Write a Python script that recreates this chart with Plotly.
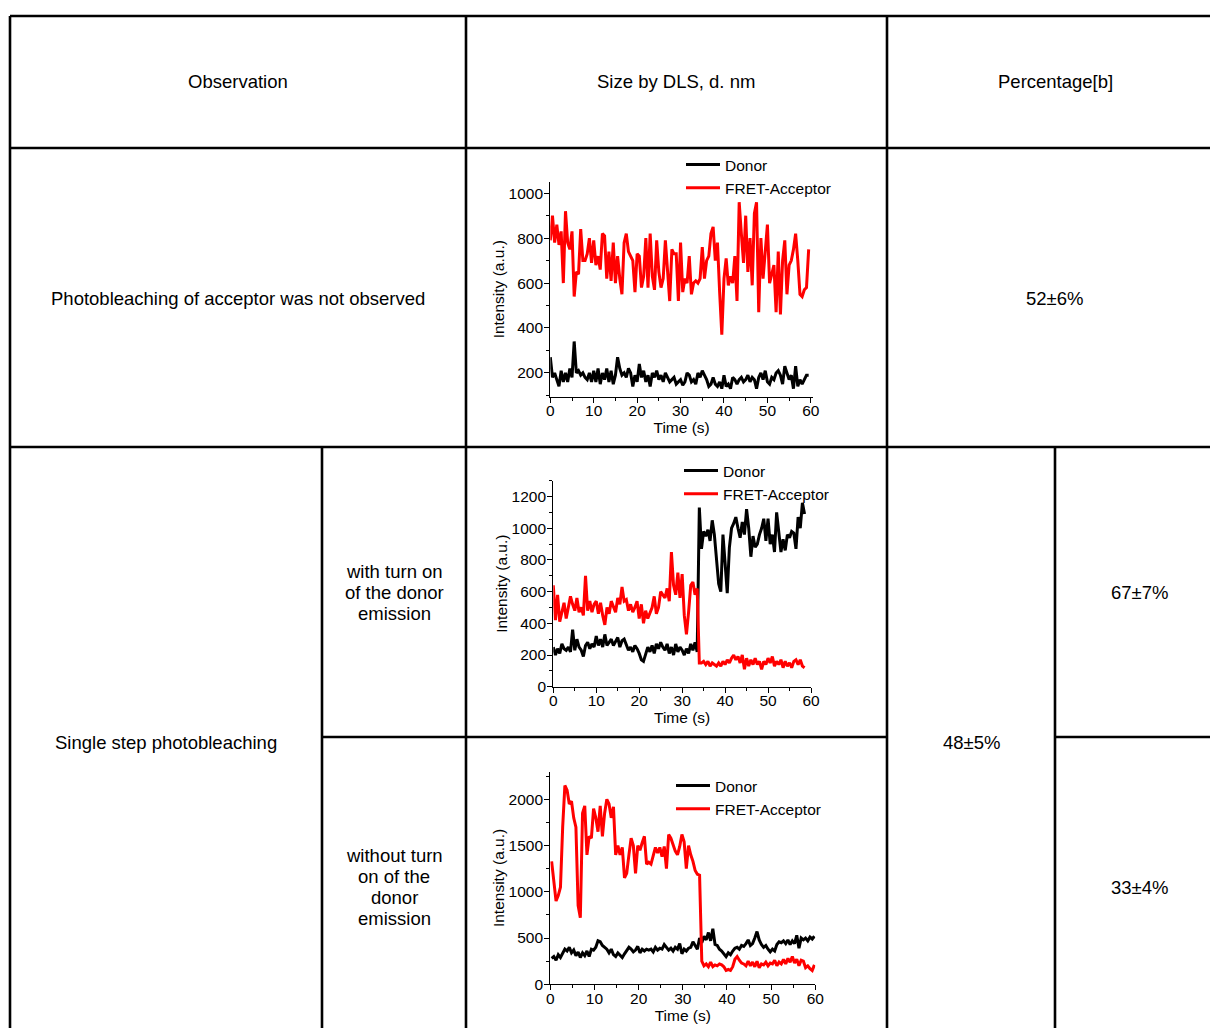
import plotly.graph_objects as go

W, H = 1210, 1028
OFF = 0  # body margin is removed in the page, so page pixels equal figure pixels

# chart 1: photobleaching of acceptor not observed (0.5 s steps from t=0)
donor1 = [270, 180, 200, 170, 140, 210, 160, 200, 160, 220, 180, 340, 200, 210, 190, 200,
          180, 170, 200, 160, 210, 160, 220, 150, 200, 170, 220, 160, 210, 150, 190, 270,
          220, 190, 200, 180, 220, 200, 140, 190, 160, 240, 180, 210, 160, 190, 140, 200,
          180, 210, 170, 190, 160, 200, 180, 160, 170, 180, 150, 160, 170, 145, 160, 200,
          190, 160, 170, 150, 200, 180, 210, 190, 170, 140, 150, 180, 150, 140, 160, 130,
          190, 140, 150, 130, 180, 170, 150, 170, 180, 160, 170, 190, 160, 180, 170, 130,
          180, 200, 170, 210, 160, 150, 180, 170, 200, 210, 190, 150, 230, 200, 170, 190,
          130, 230, 140, 170, 150, 170, 190, 190]
acceptor1 = [790, 900, 780, 860, 770, 830, 600, 920, 780, 750, 830, 540, 650, 640, 840, 700,
             700, 730, 800, 690, 790, 680, 720, 660, 820, 810, 620, 740, 610, 780, 600, 720,
             620, 550, 780, 820, 740, 720, 700, 560, 730, 720, 580, 630, 800, 580, 820, 630,
             570, 790, 650, 580, 620, 790, 640, 520, 750, 730, 730, 520, 780, 560, 620, 600,
             720, 550, 600, 610, 600, 620, 760, 620, 700, 720, 820, 850, 700, 780, 560, 370,
             620, 710, 590, 630, 600, 720, 520, 960, 820, 690, 900, 650, 800, 590, 910, 960,
             470, 800, 620, 750, 860, 600, 640, 680, 470, 740, 460, 700, 790, 550, 680, 700,
             750, 820, 700, 550, 540, 570, 580, 750]

# chart 2: single step, with turn on of the donor emission (0.5 s steps from t=0)
donor2 = [250, 200, 240, 210, 270, 240, 230, 250, 220, 360, 230, 300, 250, 230, 190, 260,
          280, 240, 270, 250, 320, 260, 300, 250, 330, 260, 280, 300, 260, 290, 310, 250,
          290, 300, 260, 230, 250, 220, 260, 240, 210, 170, 160, 200, 250, 220, 260, 210,
          270, 240, 280, 250, 230, 270, 210, 250, 200, 270, 220, 250, 230, 200, 240, 210,
          270, 230, 280, 220, 1130, 870, 980, 950, 990, 920, 1050, 960, 780, 650, 600, 960,
          780, 590, 880, 1000, 1030, 1070, 1000, 940, 1040, 960, 1120, 1000, 820, 950, 880, 900,
          960, 1000, 1060, 920, 1060, 900, 960, 850, 1100, 950, 850, 930, 860, 960, 940, 980,
          970, 870, 1070, 1000, 1160, 1090]
acceptor2 = [640, 420, 580, 410, 470, 530, 430, 500, 570, 520, 480, 560, 470, 500, 450, 700,
             480, 540, 470, 520, 540, 460, 530, 450, 390, 500, 460, 540, 500, 470, 560, 520,
             630, 540, 550, 480, 520, 470, 500, 540, 430, 520, 400, 480, 430, 470, 500, 570,
             460, 500, 600, 580, 560, 620, 540, 850, 640, 580, 720, 560, 710, 450, 330, 470,
             640, 660, 580, 620, 150, 150, 160, 140, 160, 130, 150, 140, 130, 150, 130, 160,
             140, 170, 150, 180, 200, 170, 190, 150, 200, 110, 180, 130, 170, 140, 180, 140,
             160, 110, 160, 140, 180, 150, 190, 130, 160, 140, 170, 120, 160, 130, 150, 120,
             160, 170, 140, 170, 130, 120]

# chart 3: single step, without turn on of the donor emission (0.5 s steps from t=0.3)
donor3 = [280, 300, 260, 320, 290, 330, 380, 360, 400, 340, 370, 310, 350, 290, 340, 310,
          360, 300, 380, 370, 400, 470, 460, 420, 400, 380, 340, 380, 320, 300, 340, 310,
          290, 330, 360, 400, 380, 350, 370, 410, 340, 380, 360, 380, 370, 380, 350, 400,
          370, 390, 380, 430, 400, 370, 390, 360, 400, 380, 440, 330, 380, 360, 390, 400,
          460, 420, 380, 500, 450, 520, 480, 560, 470, 600, 430, 420, 380, 360, 330, 300,
          340, 320, 360, 390, 400, 380, 420, 410, 440, 480, 420, 440, 500, 570, 480, 430,
          400, 420, 380, 350, 380, 360, 430, 460, 450, 470, 440, 480, 430, 470, 440, 530,
          390, 500, 480, 500, 470, 510, 490, 520]
acceptor3 = [1330, 1100, 900, 960, 1050, 1700, 2150, 2100, 1950, 1980, 1800, 1700, 850, 720, 1850, 1930,
             1400, 1600, 1580, 1900, 1800, 1650, 1930, 1600, 1850, 2000, 1950, 1800, 1920, 1400, 1500, 1400,
             1480, 1150, 1200, 1400, 1580, 1500, 1200, 1500, 1450, 1530, 1600, 1300, 1320, 1300, 1380, 1480,
             1420, 1480, 1380, 1490, 1250, 1620, 1580, 1500, 1440, 1400, 1490, 1620, 1540, 1250, 1500, 1400,
             1330, 1230, 1190, 1180, 250, 200, 220, 190, 240, 190, 210, 200, 220, 210, 190, 150,
             160, 150, 190, 270, 300, 260, 230, 220, 200, 250, 200, 240, 190, 250, 180, 220,
             210, 240, 200, 230, 220, 260, 200, 240, 220, 270, 220, 280, 240, 300, 230, 270,
             200, 260, 250, 180, 200, 170, 150, 210]

headers = ["Observation", "Size by DLS, d. nm", "Percentage[b]"]
row1_label = "Photobleaching of acceptor was not observed"
row2_label = "Single step photobleaching"
sub_labels = [["with turn on", "of the donor", "emission"],
              ["without turn", "on of the", "donor", "emission"]]
row1_pct = "52±6%"
row2_pct = "48±5%"
sub_pcts = ["67±7%", "33±4%"]

FONT = "Liberation Sans, Arial, sans-serif"
RED = "#ff0000"


def px_x(p):
    return (p - OFF) / W


def px_y(p):
    return 1 - (p - OFF) / H


fig = go.Figure()

charts = [
    # (donor, acceptor, t0, x-domain px, y-domain px, x range, y range, y dtick, legend pos px)
    (donor1, acceptor1, 0.0, (550.3, 813.0), (182.0, 396.5), [0, 60.5], [95, 1050], 200, (681, 148)),
    (donor2, acceptor2, 0.0, (553.3, 811.0), (480.7, 686.7), [0, 60], [0, 1300], 200, (679, 454)),
    (donor3, acceptor3, 0.3, (550.3, 815.3), (771.6, 984.3), [0, 60], [0, 2300], 500, (671, 769)),
]

for i, (don, acc, t0, xd, yd, xr, yr, ydt, lpos) in enumerate(charts, start=1):
    sfx = "" if i == 1 else str(i)
    leg = "legend" if i == 1 else "legend" + str(i)
    fig.add_trace(go.Scatter(y=don, x0=t0, dx=0.5, mode="lines", name="Donor",
                             line=dict(color="black", width=3),
                             xaxis="x" + sfx, yaxis="y" + sfx, legend=leg))
    fig.add_trace(go.Scatter(y=acc, x0=t0, dx=0.5, mode="lines", name="FRET-Acceptor",
                             line=dict(color=RED, width=3),
                             xaxis="x" + sfx, yaxis="y" + sfx, legend=leg))

    axis_common = dict(showline=True, linecolor="black", linewidth=1.2, ticks="outside",
                       ticklen=5, tickwidth=1.2, tickcolor="black", showgrid=False,
                       zeroline=False, automargin=False,
                       tickfont=dict(size=15.5, color="black"))
    fig.layout["xaxis" + sfx] = dict(
        axis_common, domain=[px_x(xd[0]), px_x(xd[1])], range=xr, anchor="y" + sfx,
        tick0=0, dtick=10, ticklabelstandoff=-5,
        minor=dict(ticks="outside", ticklen=3, dtick=5, tick0=0, tickcolor="black"),
        title=dict(text="Time (s)", font=dict(size=15.5, color="black"), standoff=1))
    fig.layout["yaxis" + sfx] = dict(
        axis_common, domain=[px_y(yd[1]), px_y(yd[0])], range=yr, anchor="x" + sfx,
        tick0=0, dtick=ydt, ticklabelstandoff=-2,
        minor=dict(ticks="outside", ticklen=3, dtick=ydt / 2, tick0=0, tickcolor="black"),
        title=dict(text="Intensity (a.u.)", font=dict(size=15.5, color="black"), standoff=0))
    fig.layout[leg] = dict(x=px_x(lpos[0]), y=px_y(lpos[1]), xanchor="left", yanchor="top",
                           bgcolor="rgba(0,0,0,0)", borderwidth=0, itemwidth=34,
                           font=dict(size=15.5, color="black"), tracegroupgap=0)

# table grid
hlines = [(16, 10, W), (148, 10, W), (447, 10, W), (737, 322, 887), (737, 1055, W)]
vlines = [(10, 16, H), (466, 16, H), (887, 16, H), (322, 447, H), (1055, 447, H)]
shapes = []
for y, x0, x1 in hlines:
    shapes.append(dict(type="line", xref="paper", yref="paper", x0=px_x(x0), x1=px_x(x1),
                       y0=px_y(y), y1=px_y(y), line=dict(color="black", width=2.6)))
for x, y0, y1 in vlines:
    shapes.append(dict(type="line", xref="paper", yref="paper", x0=px_x(x), x1=px_x(x),
                       y0=px_y(y0), y1=px_y(y1), line=dict(color="black", width=2.6)))


def cell_text(txt, cx, cy):
    return dict(text=txt, x=px_x(cx), y=px_y(cy), xref="paper", yref="paper",
                showarrow=False, xanchor="center", yanchor="middle",
                font=dict(family=FONT, size=18.5, color="black"))


annotations = [
    cell_text(headers[0], 238, 82),
    cell_text(headers[1], 676, 82),
    cell_text(headers[2], 1055, 82),
    cell_text(row1_label, 238, 298),
    cell_text(row1_pct, 1054, 298),
    cell_text(row2_label, 166, 742),
    cell_text(row2_pct, 971, 742),
    cell_text(sub_pcts[0], 1139, 592),
    cell_text(sub_pcts[1], 1139, 887),
]
for lines, cy in zip(sub_labels, [592, 887]):
    top = cy - (len(lines) - 1) * 21 / 2
    for k, ln in enumerate(lines):
        annotations.append(cell_text(ln, 394, top + 21 * k))

fig.update_layout(width=W, height=H, margin=dict(l=0, r=0, t=0, b=0),
                  paper_bgcolor="white", plot_bgcolor="white", showlegend=True,
                  font=dict(family=FONT, color="black"),
                  shapes=shapes, annotations=annotations)

fig.write_html("out.html", config={"displayModeBar": False},
               post_script="document.body.style.margin = '0px';")
